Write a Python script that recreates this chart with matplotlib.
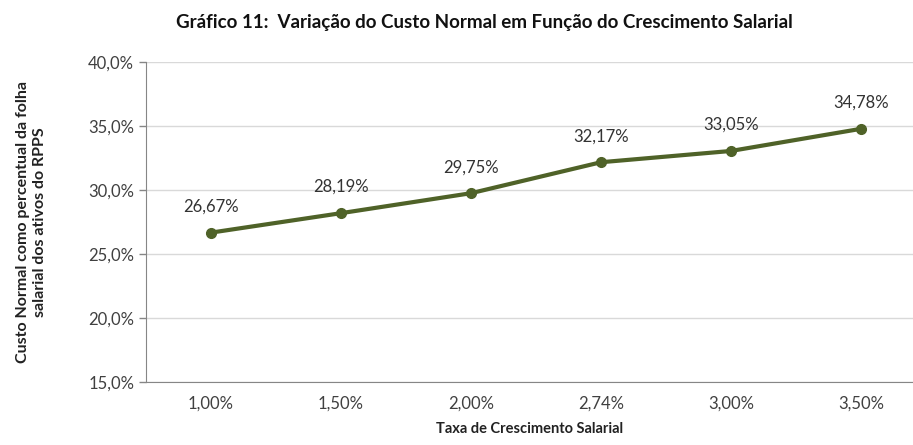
import matplotlib
matplotlib.use("Agg")
import matplotlib.pyplot as plt
from matplotlib.ticker import FuncFormatter

plt.rcParams['font.family'] = ['Lato', 'DejaVu Sans']

categorias = ['1,00%', '1,50%', '2,00%', '2,74%', '3,00%', '3,50%']
custo = [26.67, 28.19, 29.75, 32.17, 33.05, 34.78]
rotulos = ['26,67%', '28,19%', '29,75%', '32,17%', '33,05%', '34,78%']
yticks = [15, 20, 25, 30, 35, 40]

cor = '#4f6228'

fig = plt.figure(figsize=(9.13, 4.45), dpi=100)
ax = fig.add_axes([146 / 913, 1 - 382 / 445, 1 - 146 / 913, (382 - 62) / 445])

x = range(len(categorias))
ax.plot(x, custo, color=cor, linewidth=3, marker='o', markersize=7, zorder=3)
for xi, yi, r in zip(x, custo, rotulos):
    ax.annotate(r, (xi, yi), xytext=(0, 13), textcoords='offset points',
                ha='center', va='bottom', fontsize=12, color='#333333')

ax.set_xlim(-0.5, 5.4)
ax.set_ylim(15, 40)
ax.set_yticks(yticks)
ax.yaxis.set_major_formatter(FuncFormatter(lambda v, p: f'{v:.1f}%'.replace('.', ',')))
ax.set_xticks(list(x))
ax.set_xticklabels(categorias)
ax.tick_params(axis='both', labelsize=12, colors='#404040', length=5, width=1)
ax.tick_params(axis='x', length=0, pad=10)
ax.tick_params(axis='y', direction='out', color='#868686')
ax.grid(axis='y', color='#d9d9d9', linewidth=1)
ax.set_axisbelow(True)
for s in ['top', 'right']:
    ax.spines[s].set_visible(False)
ax.spines['left'].set_color('#868686')
ax.spines['bottom'].set_color('#868686')

ax.set_xlabel('Taxa de Crescimento Salarial', fontsize=10.5, fontweight='bold', color='#222222', labelpad=7)
ax.set_ylabel('Custo Normal como percentual da folha\nsalarial dos ativos do RPPS', fontsize=11.5,
              fontweight='bold', color='#222222', labelpad=30)
fig.text(0.53, 0.95, 'Gráfico 11:  Variação do Custo Normal em Função do Crescimento Salarial',
         ha='center', va='center', fontsize=13.5, fontweight='bold', color='#111111')

fig.savefig('out.png', dpi=100)
